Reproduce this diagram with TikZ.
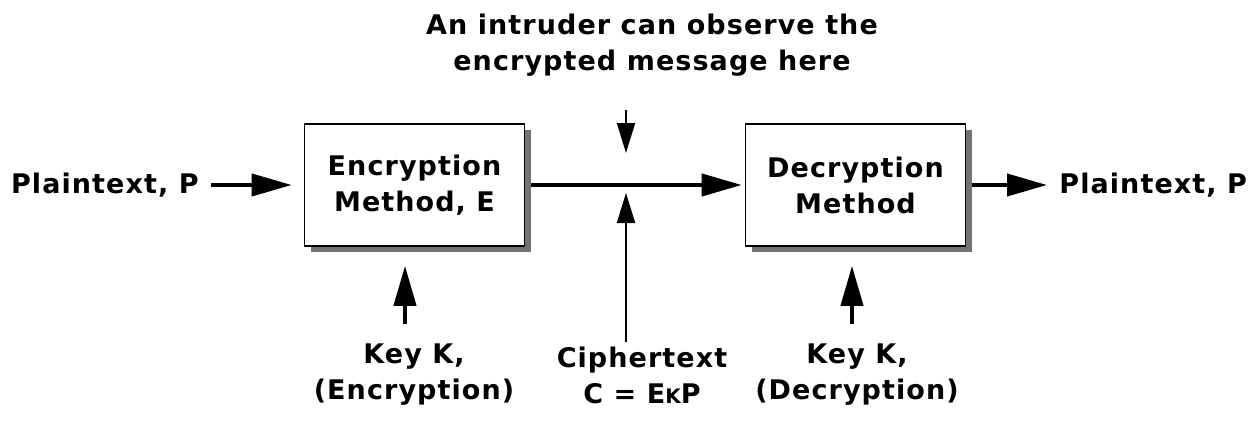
\documentclass[tikz,border=0pt]{standalone}
\usepackage{fontspec}
\setmainfont{DejaVu Sans}[LetterSpace=4]
\usetikzlibrary{arrows.meta,shadows,positioning}

\begin{document}
\begin{tikzpicture}[x=0.5pt,y=-0.5pt,%
		   font=\fontsize{13.5}{18}\selectfont\bfseries,
		   method/.style={draw,thick,fill=white,minimum width=110pt,minimum height=61pt,align=center,
		                  drop shadow={shadow xshift=3pt,shadow yshift=-3pt,fill=black!55,opacity=1}},
		   label/.style={align=center,inner sep=2pt},
		   flow/.style={-{Triangle[length=20pt,width=11pt]},line width=2pt},
		   peek/.style={-{Triangle[length=15pt,width=9pt]},line width=1pt}]

	\useasboundingbox (0,0) rectangle (1248,423);

	% the two methods
	\node[method](enc) at (414.5,185) {Encryption\\Method, E};
	\node[method](dec) at (855.5,185) {Decryption\\Method};

	% plaintext in and out
	\node[label,anchor=east](pin) at (203,185) {Plaintext, P};
	\node[label,anchor=west](pout) at (1055,185) {Plaintext, P};
	\draw[flow,shorten <=4pt,shorten >=6pt] (pin) -- (enc);
	\draw[flow,shorten <=3pt,shorten >=1.5pt] (enc) -- (dec);
	\draw[flow,shorten <=3pt,shorten >=4pt] (dec) -- (pout);

	% keys
	\node[label](kenc) at (414,375) {Key K,\\(Encryption)};
	\node[label](kdec) at (857,375) {Key K,\\(Decryption)};
	\draw[flow,shorten <=8pt,shorten >=9.5pt] (kenc.north -| 405,0) -- (enc.south -| 405,0);
	\draw[flow,shorten <=8pt,shorten >=9.5pt] (kdec.north -| 852,0) -- (dec.south -| 852,0);

	% where the intruder looks
	\node[label](spy) at (652,45) {An intruder can observe the\\encrypted message here};
	\node[label](ctext) at (642,375) {Ciphertext\\C = E{\fontsize{10}{10}\selectfont K}P};
	\coordinate (look) at (626,110);
	\coordinate (lookend) at (626,153);
	\coordinate (cut) at (626,193);
	\draw[peek] (look) -- (lookend);
	\draw[peek] (ctext.north -| cut) -- (cut);
\end{tikzpicture}
\end{document}
